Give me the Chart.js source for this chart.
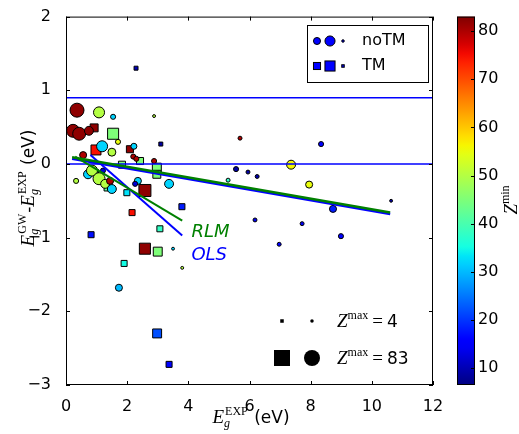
<!DOCTYPE html>
<html>
<head>
<meta charset="utf-8">
<script src="https://cdn.jsdelivr.net/npm/chart.js@4.4.1/dist/chart.umd.min.js"></script>
<style>
  html, body { margin: 0; padding: 0; background: #fff; }
  #wrap { width: 519px; height: 434px; }
</style>
</head>
<body>
<div id="wrap"><canvas id="chart" width="519" height="434"></canvas></div>
<script>
// compounds without transition metals: exp gap, GW error, Zmin, Zmax
const noTmGap = [0.36, 1.08, 1.54, 2.88, 0.23, 0.43, 0.75, 1.70, 1.18, 1.50, 2.22, 2.20, 2.30, 2.88, 0.56,
  0.33, 0.72, 0.85, 1.21, 1.08, 1.28, 1.44, 1.50, 2.35, 2.26, 3.37, 3.50, 3.80, 1.73, 5.69,
  8.34, 5.56, 5.95, 6.25, 7.36, 7.95, 5.30, 10.63, 8.73, 6.18, 7.72, 8.99, 6.97];
const noTmErr = [0.73, 0.70, 0.64, 0.65, 0.45, 0.41, 0.45, 0.30, 0.24, 0.16, 0.24, 0.10, 0.07, 0.04, 0.12,
  -0.23, -0.14, -0.09, -0.09, -0.20, -0.27, -0.23, -0.34, -0.23, -0.27, -0.27, -1.15, -1.41, -1.68, 0.35,
  0.27, -0.07, -0.11, -0.17, -0.01, -0.28, -0.22, -0.50, -0.61, -0.76, -0.81, -0.98, -1.09];
const noTmZmin = [82, 50, 32, 50, 82, 82, 82, 55, 32, 50, 32, 80, 80, 80, 80,
  50, 32, 50, 12, 50, 50, 80, 32, 32, 12, 32, 32, 50, 30, 80,
  15, 9, 9, 9, 56, 55, 38, 9, 18, 14, 14, 16, 15];
const noTmZmax = [73, 47, 12, 5, 63, 63, 32, 12, 47, 26, 16, 12, 12, 12, 21,
  12, 32, 47, 12, 55, 32, 21, 32, 21, 12, 32, 5, 5, 21, 8,
  12, 12, 8, 8, 32, 21, 8, 5, 21, 8, 8, 12, 8];

// compounds with transition metals
const tmGap = [2.29, 0.92, 1.54, 0.98, 2.09, 3.10, 2.42, 1.83, 2.97, 2.97, 0.98, 1.31, 2.58, 1.99, 3.79,
  2.16, 0.82, 3.07, 2.58, 3.00, 1.90, 2.98, 3.37];
const tmErr = [1.30, 0.49, 0.41, 0.19, 0.20, 0.27, 0.04, -0.01, -0.05, -0.14, -0.11, -0.34, -0.36, -0.39, -0.58,
  -0.66, -0.96, -0.88, -1.15, -1.19, -1.35, -2.30, -2.72];
const tmZmin = [10, 82, 45, 75, 82, 9, 45, 45, 45, 45, 40, 42, 82, 33, 18,
  75, 17, 38, 82, 45, 35, 22, 16];
const tmZmax = [8, 26, 47, 39, 21, 8, 21, 21, 32, 26, 12, 8, 55, 16, 16,
  16, 16, 16, 47, 32, 16, 32, 16];

// fitted lines (end points) and reference levels
const rlmAll = [[0.2, 0.09], [10.6, -0.66]];
const olsAll = [[0.2, 0.07], [10.6, -0.68]];
const rlmShort = [[0.3, 0.10], [3.8, -0.77]];
const olsShort = [[0.8, 0.12], [3.8, -0.97]];
const refLevels = [0.9, 0];

const xTicks = [0, 2, 4, 6, 8, 10, 12];
const yTicks = [-3, -2, -1, 0, 1, 2];
const cbTicks = [10, 20, 30, 40, 50, 60, 70, 80];
const cbMin = 6.5, cbMax = 83;
const sizeLegend = [4, 83];

function jet(t) {
  t = Math.max(0, Math.min(1, t));
  const seg = pts => {
    for (let i = 1; i < pts.length; i++) {
      if (t <= pts[i][0]) {
        const [x0, y0] = pts[i - 1], [x1, y1] = pts[i];
        return y0 + (y1 - y0) * (t - x0) / (x1 - x0);
      }
    }
    return pts[pts.length - 1][1];
  };
  const r = seg([[0, 0], [0.35, 0], [0.66, 1], [0.89, 1], [1, 0.5]]);
  const g = seg([[0, 0], [0.125, 0], [0.375, 1], [0.64, 1], [0.91, 0], [1, 0]]);
  const b = seg([[0, 0.5], [0.11, 1], [0.34, 1], [0.65, 0], [1, 0]]);
  return `rgb(${Math.round(r * 255)},${Math.round(g * 255)},${Math.round(b * 255)})`;
}
const zColor = z => jet((z - cbMin) / (cbMax - cbMin));
// marker area ~ Zmax (outer diameter 16px at Z=83)
const outerD = z => 16 * Math.sqrt(z / 83);
const circR = z => outerD(z) / 2 - 0.5;
const rectR = z => (outerD(z) - 1) / Math.SQRT2;

const pts = (xs, ys) => xs.map((x, i) => ({ x: x, y: ys[i] }));
const seg2 = a => a.map(p => ({ x: p[0], y: p[1] }));

const lineDs = (data, color, w) => ({
  type: 'line', data: data, borderColor: color, borderWidth: w,
  pointRadius: 0, fill: false, tension: 0
});

const datasets = [
  lineDs(seg2(rlmAll), '#008000', 2.5),
  lineDs(seg2(rlmShort), '#008000', 2),
  lineDs(seg2(olsAll), '#0000ff', 2.5),
  lineDs(seg2(olsShort), '#0000ff', 2),
  ...refLevels.map(v => lineDs([{ x: 0, y: v }, { x: 12, y: v }], '#0000ff', 1.5)),
  {
    data: pts(noTmGap, noTmErr), pointStyle: 'circle',
    pointRadius: noTmZmax.map(circR), pointBackgroundColor: noTmZmin.map(zColor),
    pointBorderColor: '#000', pointBorderWidth: 1
  },
  {
    data: pts(tmGap, tmErr), pointStyle: 'rect',
    pointRadius: tmZmax.map(rectR), pointBackgroundColor: tmZmin.map(zColor),
    pointBorderColor: '#000', pointBorderWidth: 1
  }
];

const SERIF = '"Liberation Serif", "DejaVu Serif", serif';
const SANS = '"DejaVu Sans", sans-serif';

// draws math-like label parts left to right, returns width
function mathParts(ctx, parts, x, y, draw) {
  let cx = x;
  for (const p of parts) {
    if (p.t !== undefined) {
      ctx.font = p.f;
      cx += p.pl || 0;
      if (draw) ctx.fillText(p.t, cx, y + (p.dy || 0));
      cx += ctx.measureText(p.t).width + (p.pr || 0);
    } else {
      ctx.font = 'italic 12px ' + SERIF;
      const ws = ctx.measureText(p.sub).width;
      if (draw) ctx.fillText(p.sub, cx, y + 4);
      ctx.font = '12px ' + SERIF;
      const wp = ctx.measureText(p.sup).width;
      if (draw) ctx.fillText(p.sup, cx + 1, y - 8);
      cx += Math.max(ws, wp + 1) + 1;
    }
  }
  return cx - x;
}
function drawMathCentered(ctx, parts, x, y) {
  ctx.textAlign = 'left';
  ctx.textBaseline = 'alphabetic';
  const w = mathParts(ctx, parts, 0, 0, false);
  mathParts(ctx, parts, x - w / 2, y, true);
}

const E = { t: 'E', f: 'italic 19px ' + SERIF };
const xLabel = [E, { sub: 'g', sup: 'EXP' }, { t: ' (eV)', f: '17px ' + SANS }];
const yLabel = [E, { sub: 'g', sup: 'GW' }, { t: '-', f: '17px ' + SANS }, E, { sub: 'g', sup: 'EXP' }, { t: ' (eV)', f: '17px ' + SANS }];

const decor = {
  id: 'decor',
  afterDraw(chart) {
    const ctx = chart.ctx, a = chart.chartArea;
    const xs = chart.scales.x, ys = chart.scales.y;
    ctx.save();
    ctx.fillStyle = '#000';
    ctx.strokeStyle = '#000';
    // frame + inward ticks
    ctx.lineWidth = 1;
    ctx.strokeRect(a.left + 0.5, a.top + 0.5, a.right - a.left - 1, a.bottom - a.top - 1);
    ctx.beginPath();
    xTicks.forEach(v => {
      const px = Math.round(xs.getPixelForValue(v)) + 0.5;
      ctx.moveTo(px, a.bottom); ctx.lineTo(px, a.bottom - 4);
      ctx.moveTo(px, a.top); ctx.lineTo(px, a.top + 4);
    });
    yTicks.forEach(v => {
      const py = Math.round(ys.getPixelForValue(v)) + 0.5;
      ctx.moveTo(a.left, py); ctx.lineTo(a.left + 4, py);
      ctx.moveTo(a.right, py); ctx.lineTo(a.right - 4, py);
    });
    ctx.stroke();

    // fit labels
    ctx.font = 'italic 18px ' + SANS;
    ctx.textAlign = 'left';
    ctx.textBaseline = 'middle';
    ctx.fillStyle = '#008000';
    ctx.fillText('RLM', xs.getPixelForValue(4.1), ys.getPixelForValue(-0.93));
    ctx.fillStyle = '#0000ff';
    ctx.fillText('OLS', xs.getPixelForValue(4.1), ys.getPixelForValue(-1.24));

    // axis titles
    ctx.fillStyle = '#000';
    drawMathCentered(ctx, xLabel, 251, 423);
    ctx.save();
    ctx.translate(34, 188);
    ctx.rotate(-Math.PI / 2);
    drawMathCentered(ctx, yLabel, 0, 0);
    ctx.restore();

    // marker legend
    const lx = 307, ly = 25, lw = 121, lh = 57;
    ctx.fillStyle = '#fff';
    ctx.fillRect(lx, ly, lw, lh);
    ctx.strokeRect(lx + 0.5, ly + 0.5, lw, lh);
    const legZ = [21, 40, 4];
    const legX = [317, 330, 343];
    ctx.fillStyle = '#0000ff';
    ctx.beginPath();
    legZ.forEach((z, i) => { ctx.moveTo(legX[i] + circR(z), 41); ctx.arc(legX[i], 41, circR(z), 0, Math.PI * 2); });
    ctx.fill(); ctx.stroke();
    legZ.forEach((z, i) => {
      const s = outerD(z) - 1;
      ctx.fillRect(legX[i] - s / 2, 66 - s / 2, s, s);
      ctx.strokeRect(legX[i] - s / 2, 66 - s / 2, s, s);
    });
    ctx.fillStyle = '#000';
    ctx.font = '16px ' + SANS;
    ctx.textBaseline = 'middle';
    ctx.fillText('noTM', 362, 41);
    ctx.fillText('TM', 362, 66);

    // size legend
    const rowsY = [321, 358];
    sizeLegend.forEach((z, i) => {
      const y = rowsY[i];
      const s = outerD(z);
      ctx.fillStyle = '#000';
      ctx.fillRect(282 - s / 2, y - s / 2, s, s);
      ctx.beginPath();
      ctx.arc(312, y, s / 2, 0, Math.PI * 2);
      ctx.fill();
      ctx.textBaseline = 'alphabetic';
      mathParts(ctx, [
        { t: 'Z', f: 'italic 19px ' + SERIF },
        { t: 'max', f: '12px ' + SERIF, dy: -8 },
        { t: '=', f: '19px ' + SERIF, pl: 4, pr: 4 },
        { t: String(z), f: '17px ' + SANS }
      ], 337, y + 6, true);
    });

    // colorbar
    const cx0 = 457, cx1 = 475, cy0 = a.top, cy1 = a.bottom;
    const grad = ctx.createLinearGradient(0, cy1, 0, cy0);
    for (let i = 0; i <= 40; i++) grad.addColorStop(i / 40, jet(i / 40));
    ctx.fillStyle = grad;
    ctx.fillRect(cx0, cy0, cx1 - cx0, cy1 - cy0);
    ctx.strokeRect(cx0 + 0.5, cy0 + 0.5, cx1 - cx0 - 1, cy1 - cy0 - 1);
    const cbY = v => cy1 - (v - cbMin) / (cbMax - cbMin) * (cy1 - cy0);
    ctx.beginPath();
    cbTicks.forEach(v => {
      const py = Math.round(cbY(v)) + 0.5;
      ctx.moveTo(cx1, py); ctx.lineTo(cx1 - 4, py);
    });
    ctx.stroke();
    ctx.fillStyle = '#000';
    ctx.font = '16px ' + SANS;
    ctx.textAlign = 'left';
    ctx.textBaseline = 'middle';
    cbTicks.forEach(v => ctx.fillText(String(v), 478, cbY(v)));
    ctx.save();
    ctx.translate(517, 200);
    ctx.rotate(-Math.PI / 2);
    drawMathCentered(ctx, [{ t: 'Z', f: 'italic 19px ' + SERIF }, { t: 'min', f: '12px ' + SERIF, dy: -8 }], 0, 0);
    ctx.restore();
    ctx.restore();
  }
};

const tickFont = { family: 'DejaVu Sans', size: 16 };
new Chart(document.getElementById('chart'), {
  type: 'scatter',
  data: { datasets: datasets },
  options: {
    responsive: false,
    animation: false,
    devicePixelRatio: 1,
    layout: { padding: { left: 0, top: 15, right: 86, bottom: 0 } },
    plugins: { legend: { display: false }, tooltip: { enabled: false } },
    scales: {
      x: {
        type: 'linear', min: 0, max: 12,
        afterBuildTicks: s => { s.ticks = xTicks.map(v => ({ value: v })); },
        grid: { display: false }, border: { display: false },
        ticks: { color: '#000', font: tickFont, padding: 4, maxRotation: 0 },
        afterFit: s => { s.height = 49; }
      },
      y: {
        type: 'linear', min: -3, max: 2,
        afterBuildTicks: s => { s.ticks = yTicks.map(v => ({ value: v })); },
        grid: { display: false }, border: { display: false },
        ticks: { color: '#000', font: tickFont, padding: 7, callback: v => String(v).replace('-', '\u2212') },
        afterFit: s => { s.width = 66; }
      }
    }
  },
  plugins: [decor]
});
</script>
</body>
</html>
